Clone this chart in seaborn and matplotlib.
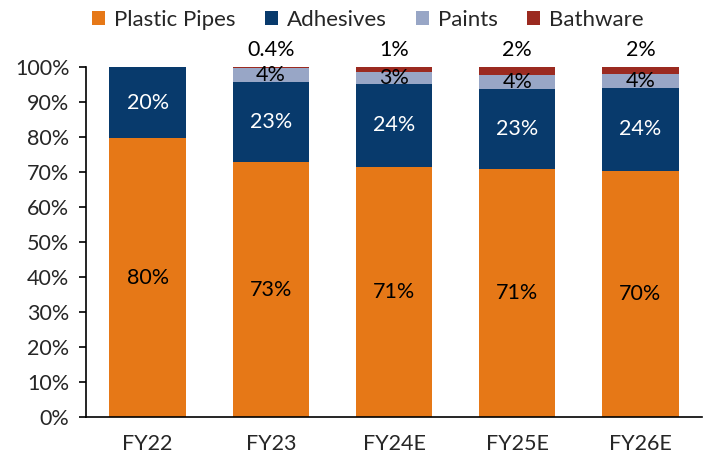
import matplotlib
matplotlib.use("Agg")
import matplotlib.pyplot as plt
from matplotlib.patches import Patch
import numpy as np
import pandas as pd
import seaborn as sns

# Revenue mix by segment (% of total)
years = ["FY22", "FY23", "FY24E", "FY25E", "FY26E"]
plastic_pipes = [79.7, 72.8, 71.4, 71.0, 70.4]
adhesives = [20.3, 22.8, 23.8, 22.7, 23.6]
paints = [0.0, 4.0, 3.4, 4.0, 3.9]
bathware = [0.0, 0.4, 1.4, 2.3, 2.1]

segments = ["Plastic Pipes", "Adhesives", "Paints", "Bathware"]
colors = {
    "Plastic Pipes": "#E67817",
    "Adhesives": "#083A6C",
    "Paints": "#98A6C6",
    "Bathware": "#9B2A20",
}

sns.set_theme(style="white")
plt.rcParams["font.family"] = ["Lato", "DejaVu Sans"]
FS = 15.5

df = pd.DataFrame({
    "year": years,
    "Plastic Pipes": plastic_pipes,
    "Adhesives": adhesives,
    "Paints": paints,
    "Bathware": bathware,
})
# cumulative tops so bars can be layered front-to-back
cum = df[segments].cumsum(axis=1)

fig = plt.figure(figsize=(7.07, 4.59), dpi=100)
ax = fig.add_axes([0.1216, 0.0915, 0.8714, 0.7625])

bar_w = 0.62
for seg in reversed(segments):
    sns.barplot(x=df["year"], y=cum[seg], color=colors[seg], width=bar_w,
                order=years, ax=ax, saturation=1, edgecolor="none", linewidth=0)

# value labels
for i in range(len(years)):
    base = 0.0
    for seg, tcol in zip(segments[:3], ["black", "white", "black"]):
        v = df.loc[i, seg]
        if v > 0:
            ax.text(i, base + v / 2, f"{v:.0f}%", ha="center", va="center",
                    color=tcol, fontsize=FS)
        base += v
    b = df.loc[i, "Bathware"]
    if b > 0:
        txt = f"{b:.1f}%" if b < 1 else f"{b:.0f}%"
        ax.annotate(txt, xy=(i, 100), xytext=(0, 5), textcoords="offset points",
                    ha="center", va="bottom", fontsize=FS, color="black",
                    annotation_clip=False)

ax.set_xlim(-0.5, len(years) - 0.5)
ax.set_ylim(0, 100)
ax.set_yticks(np.arange(0, 101, 10))
ax.set_yticklabels([f"{t}%" for t in range(0, 101, 10)], fontsize=FS)
ax.set_xticks(range(len(years)))
ax.set_xticklabels(years, fontsize=FS)
ax.set_xticks(np.arange(-0.5, len(years), 1), minor=True)
ax.tick_params(axis="x", which="major", length=0, pad=12)
ax.tick_params(axis="x", which="minor", length=7, width=1.2, color="black", direction="out")
ax.tick_params(axis="y", length=5, width=1.2, color="black", direction="out", left=True, pad=7)
ax.set_xlabel("")
ax.set_ylabel("")

sns.despine(ax=ax, top=True, right=True)
for s in ["left", "bottom"]:
    ax.spines[s].set_color("black")
    ax.spines[s].set_linewidth(1.2)

handles = [Patch(facecolor=colors[s], edgecolor="none", label=s) for s in segments]
fig.legend(handles=handles, loc="center", bbox_to_anchor=(0.52, 0.956), ncol=4,
           frameon=False, fontsize=FS + 0.5, handlelength=0.6, handleheight=0.6,
           handletextpad=0.4, columnspacing=1.3)

fig.savefig("out.png", dpi=100)
